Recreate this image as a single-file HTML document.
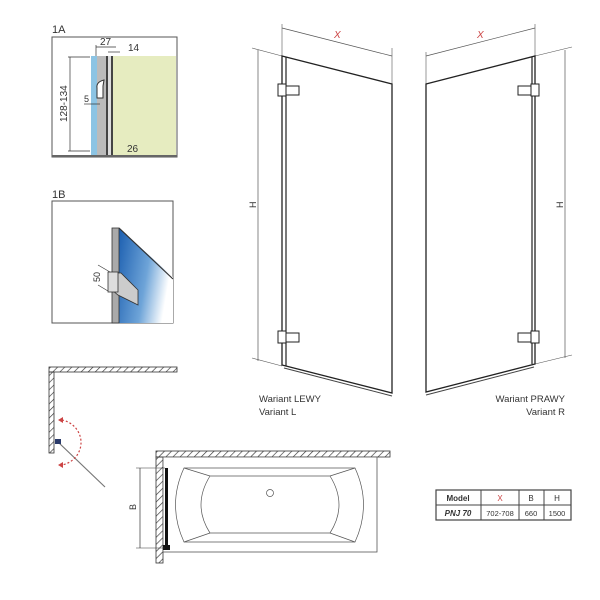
<!DOCTYPE html>
<html><head><meta charset="utf-8"><style>body{margin:0;background:#fff}svg{display:block}text{font-family:"Liberation Sans",sans-serif}</style></head><body>
<svg width="600" height="600" viewBox="0 0 600 600" xmlns="http://www.w3.org/2000/svg">
<defs>
<pattern id="h" width="5" height="5" patternUnits="userSpaceOnUse" patternTransform="rotate(45)"><line x1="0" y1="0" x2="0" y2="5" stroke="#333" stroke-width="1.3"/></pattern>
<linearGradient id="bg" x1="0" y1="0" x2="1" y2="0.3"><stop offset="0" stop-color="#1c5fb0"/><stop offset="0.6" stop-color="#6ea4d8"/><stop offset="1" stop-color="#fff"/></linearGradient>
</defs>
<!-- 1A -->
<text x="52" y="33" font-size="11" fill="#333">1A</text>
<rect x="52" y="37" width="125" height="120" fill="#fff" stroke="#555"/>
<rect x="112" y="56" width="64" height="100" fill="#e6ecc0"/>
<rect x="91" y="56" width="6" height="100" fill="#8cc4e4"/>
<rect x="97" y="56" width="9" height="100" fill="#bbb"/>
<rect x="106" y="56" width="7" height="100" fill="#444"/>
<rect x="108" y="56" width="3" height="100" fill="#ddd"/>
<path d="M104 80 q-8 2 -7 8 v10 h6 v-12z" fill="#fff" stroke="#333"/>
<line x1="96" y1="47" x2="116" y2="47" stroke="#333" stroke-width="0.7"/>
<line x1="108" y1="52" x2="120" y2="52" stroke="#333" stroke-width="0.7"/>
<line x1="96" y1="45" x2="96" y2="56" stroke="#333" stroke-width="0.7"/>
<text x="100" y="45" font-size="10" fill="#333">27</text>
<text x="128" y="51" font-size="10" fill="#333">14</text>
<line x1="68" y1="57" x2="90" y2="57" stroke="#333" stroke-width="0.7"/>
<line x1="68" y1="151" x2="90" y2="151" stroke="#333" stroke-width="0.7"/>
<line x1="70" y1="57" x2="70" y2="151" stroke="#333" stroke-width="0.7"/>
<text transform="translate(67,122) rotate(-90)" font-size="10" fill="#333">128-134</text>
<line x1="84" y1="104" x2="100" y2="104" stroke="#333" stroke-width="0.7"/>
<text x="84" y="102" font-size="9" fill="#333">5</text>
<text x="127" y="152" font-size="10" fill="#333">26</text>
<rect x="52" y="155" width="125" height="2" fill="#666"/>
<!-- 1B -->
<text x="52" y="198" font-size="11" fill="#333">1B</text>
<rect x="52" y="201" width="121" height="122" fill="#fff" stroke="#555"/>
<polygon points="119,228 173,277 173,323 119,323" fill="url(#bg)"/>
<line x1="119" y1="228" x2="173" y2="279" stroke="#333" stroke-width="1.2"/>
<rect x="112" y="228" width="7" height="95" fill="#aaa" stroke="#333" stroke-width="0.8"/>
<polygon points="112,273 121,273 138,290 138,305 118,295 112,290" fill="#ccc" stroke="#333" stroke-width="0.8"/>
<rect x="108" y="272" width="10" height="20" fill="#ddd" stroke="#333" stroke-width="0.8"/>
<line x1="98" y1="265" x2="110" y2="272" stroke="#333" stroke-width="0.6"/>
<line x1="98" y1="285" x2="108" y2="291" stroke="#333" stroke-width="0.6"/>
<text transform="translate(100,282) rotate(-90)" font-size="9" fill="#333">50</text>
<!-- Left panel -->
<line x1="282" y1="24" x2="282" y2="56" stroke="#555" stroke-width="0.6"/>
<line x1="392" y1="48" x2="392" y2="86" stroke="#555" stroke-width="0.6"/>
<line x1="282" y1="28" x2="392" y2="56" stroke="#555" stroke-width="0.7"/>
<text x="334" y="38" font-size="10" fill="#c44" font-style="italic">X</text>
<line x1="252" y1="48" x2="282" y2="56" stroke="#555" stroke-width="0.6"/>
<line x1="252" y1="358" x2="282" y2="366" stroke="#555" stroke-width="0.6"/>
<line x1="258" y1="50" x2="258" y2="361" stroke="#555" stroke-width="0.7"/>
<text transform="translate(256,208) rotate(-90)" font-size="9" fill="#333">H</text>
<polygon points="282,56 392,84 392,393 282,365" fill="#fff" stroke="#222" stroke-width="1.3"/>
<line x1="286" y1="57" x2="286" y2="366" stroke="#222" stroke-width="1.2"/>
<line x1="284" y1="368" x2="392" y2="396" stroke="#444" stroke-width="1"/>
<rect x="278" y="84" width="8" height="12" fill="#fff" stroke="#222"/><rect x="286" y="86" width="13" height="9" fill="#fff" stroke="#222"/>
<rect x="278" y="331" width="8" height="12" fill="#fff" stroke="#222"/><rect x="286" y="333" width="13" height="9" fill="#fff" stroke="#222"/>
<!-- Right panel -->
<line x1="426" y1="52" x2="426" y2="86" stroke="#555" stroke-width="0.6"/>
<line x1="535" y1="24" x2="535" y2="56" stroke="#555" stroke-width="0.6"/>
<line x1="426" y1="56" x2="535" y2="28" stroke="#555" stroke-width="0.7"/>
<text x="477" y="38" font-size="10" fill="#c44" font-style="italic">X</text>
<line x1="535" y1="56" x2="572" y2="47" stroke="#555" stroke-width="0.6"/>
<line x1="535" y1="364" x2="572" y2="355" stroke="#555" stroke-width="0.6"/>
<line x1="565" y1="50" x2="565" y2="358" stroke="#555" stroke-width="0.7"/>
<text transform="translate(563,208) rotate(-90)" font-size="9" fill="#333">H</text>
<polygon points="426,84 535,56 535,364 426,392" fill="#fff" stroke="#222" stroke-width="1.3"/>
<line x1="532" y1="57" x2="532" y2="364" stroke="#222" stroke-width="1.2"/>
<line x1="426" y1="395" x2="534" y2="367" stroke="#444" stroke-width="1"/>
<rect x="518" y="86" width="13" height="9" fill="#fff" stroke="#222"/><rect x="531" y="84" width="8" height="12" fill="#fff" stroke="#222"/>
<rect x="518" y="333" width="13" height="9" fill="#fff" stroke="#222"/><rect x="531" y="331" width="8" height="12" fill="#fff" stroke="#222"/>
<text x="259" y="402" font-size="9.5" fill="#333">Wariant LEWY</text>
<text x="259" y="415" font-size="9.5" fill="#333">Variant L</text>
<text x="565" y="402" font-size="9.5" fill="#333" text-anchor="end">Wariant PRAWY</text>
<text x="565" y="415" font-size="9.5" fill="#333" text-anchor="end">Variant R</text>
<!-- plan small -->
<rect x="49" y="367" width="128" height="5" fill="url(#h)" stroke="#333" stroke-width="0.8"/>
<rect x="49" y="372" width="5" height="81" fill="url(#h)" stroke="#333" stroke-width="0.8"/>
<line x1="58" y1="442" x2="105" y2="487" stroke="#777" stroke-width="1.2"/>
<rect x="55" y="439" width="6" height="5" fill="#2a3a6a"/>
<path d="M62 420 A24 23 0 0 1 62 465" fill="none" stroke="#c44" stroke-width="1.2" stroke-dasharray="2,2"/>
<path d="M58 420 l5 -3 v6z M58 465 l5 -3 v6z" fill="#c44"/>
<!-- bath -->
<rect x="156" y="451" width="234" height="6" fill="url(#h)" stroke="#333" stroke-width="0.8"/>
<rect x="156" y="457" width="7" height="106" fill="url(#h)" stroke="#333" stroke-width="0.8"/>
<rect x="163" y="457" width="214" height="95" fill="#fff" stroke="#555" stroke-width="0.8"/>
<path d="M184 468 H355 Q372 505 355 542 H184 Q167 505 184 468Z" fill="none" stroke="#555" stroke-width="0.7"/>
<path d="M210 476 H330 Q348 505 330 533 H210 Q192 505 210 476Z" fill="none" stroke="#555" stroke-width="0.7"/>
<line x1="184" y1="468" x2="210" y2="476" stroke="#555" stroke-width="0.7"/><line x1="355" y1="468" x2="330" y2="476" stroke="#555" stroke-width="0.7"/>
<line x1="184" y1="542" x2="210" y2="533" stroke="#555" stroke-width="0.7"/><line x1="355" y1="542" x2="330" y2="533" stroke="#555" stroke-width="0.7"/>
<circle cx="270" cy="493" r="3.5" fill="none" stroke="#555" stroke-width="0.7"/>
<rect x="165" y="468" width="3" height="80" fill="#111"/>
<rect x="163" y="545" width="7" height="5" fill="#111"/>
<line x1="136" y1="468" x2="165" y2="468" stroke="#333" stroke-width="0.6"/>
<line x1="136" y1="548" x2="165" y2="548" stroke="#333" stroke-width="0.6"/>
<line x1="140" y1="468" x2="140" y2="548" stroke="#333" stroke-width="0.7"/>
<text transform="translate(136,510) rotate(-90)" font-size="9" fill="#333">B</text>
<!-- table -->
<g font-size="8" fill="#333" text-anchor="middle">
<rect x="436" y="490" width="135" height="30" fill="#fff" stroke="#444" stroke-width="1.2"/>
<line x1="436" y1="505" x2="571" y2="505" stroke="#444"/>
<line x1="481" y1="490" x2="481" y2="520" stroke="#444"/>
<line x1="519" y1="490" x2="519" y2="520" stroke="#444"/>
<line x1="544" y1="490" x2="544" y2="520" stroke="#444"/>
<text x="458" y="501" font-weight="bold">Model</text><text x="500" y="501" fill="#c44">X</text><text x="531" y="501">B</text><text x="557" y="501">H</text>
<text x="458" y="516" font-weight="bold" font-style="italic">PNJ 70</text><text x="500" y="516" font-size="7.5">702-708</text><text x="531" y="516" font-size="7.5">660</text><text x="557" y="516" font-size="7.5">1500</text>
</g>
</svg>
</body></html>
